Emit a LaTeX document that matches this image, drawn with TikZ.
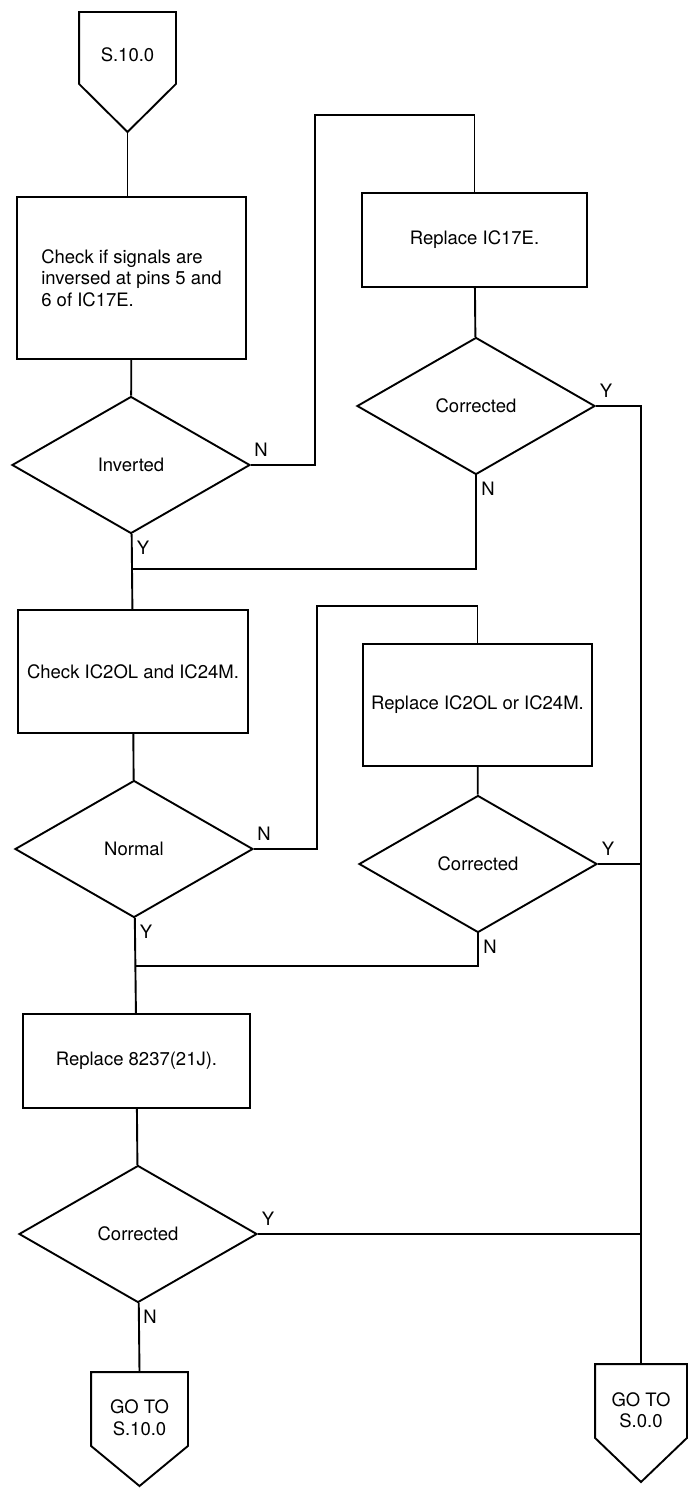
\documentclass[tikz,border=0pt]{standalone}
\usepackage{fontspec}
\setmainfont{TeX Gyre Heros}
\usetikzlibrary{shapes.geometric}

\begin{document}
\begin{tikzpicture}[x=1pt, y=-1pt, line width=1.9pt,
              every node/.style = {font=\fontsize{18.5}{21.5}\selectfont},
              procbox/.style = {draw, rectangle, inner sep=0, align=left},
              decision/.style = {draw, diamond, inner sep=0,
                minimum width=238, minimum height=137},
              offpage/.style = {rectangle, inner sep=0,
                minimum width=95, minimum height=70},
              eastlab/.style = {inner sep=0, xshift=10pt, yshift=15pt},
              southlab/.style = {inner sep=0, xshift=12pt, yshift=-13pt}]
  \useasboundingbox (0,0) rectangle (688,1488);

  \node[offpage, label={[yshift=-7pt]center:S.10.0}] (start) at (127.5,48) {};
  \coordinate (start tip) at (127.5,132);
  \node[procbox, minimum width=229, minimum height=162] (chkinv) at (131.5,278)
    {Check if signals are\\inversed at pins 5 and\\6 of IC17E.};
  \node[decision] (inverted) at (131,465) {Inverted};
  \node[procbox, minimum width=225, minimum height=94] (repE) at (474.5,240) {Replace IC17E.};
  \node[decision] (corrE) at (476,406) {Corrected};
  \node[procbox, minimum width=230, minimum height=123] (chkLM) at (133,671.5) {Check IC2OL and IC24M.};
  \node[decision] (normal) at (134,849) {Normal};
  \node[procbox, minimum width=229, minimum height=122] (repLM) at (477.5,705) {Replace IC2OL or IC24M.};
  \node[decision] (corrLM) at (478,864) {Corrected};
  \node[procbox, minimum width=227, minimum height=94] (repJ) at (136.5,1061) {Replace 8237(21J).};
  \node[decision] (corrJ) at (138,1234) {Corrected};
  \node[offpage, minimum height=72,
        label={[yshift=-8.5pt, align=center]center:GO TO\\S.10.0}] (back) at (139.5,1409) {};
  \coordinate (back tip) at (139.5,1486);
  \node[offpage, minimum width=90, minimum height=72,
        label={[yshift=-9pt, align=center]center:GO TO\\S.0.0}] (exit) at (641,1401) {};
  \coordinate (exit tip) at (641,1482);
  \coordinate (j1) at (132,569);
  \coordinate (j2) at (135,966);

  \draw (start.north west) -- (start.north east) -- (start.south east)
    -- (start tip) -- (start.south west) -- cycle;
  \draw (back.north west) -- (back.north east) -- (back.south east)
    -- (back tip) -- (back.south west) -- cycle;
  \draw (exit.north west) -- (exit.north east) -- (exit.south east)
    -- (exit tip) -- (exit.south west) -- cycle;

  \draw (start tip) -- (start tip |- chkinv.north);
  \draw (chkinv) -- (inverted);
  \draw (inverted.east) -| (315,115) -| (repE.north);
  \draw (repE) -- (corrE);
  \draw (corrE.east) -| (exit.north);
  \draw (corrE.south) |- (j1);
  \draw (inverted) -- (chkLM);
  \draw (chkLM) -- (normal);
  \draw (normal.east) -| (317,606) -| (repLM.north);
  \draw (repLM) -- (corrLM);
  \draw (corrLM.east) -- (corrLM.east -| exit.north);
  \draw (corrLM.south) |- (j2);
  \draw (normal) -- (repJ);
  \draw (repJ) -- (corrJ);
  \draw (corrJ.east) -- (corrJ.east -| exit.north);
  \draw (corrJ) -- (back.north);

  \node[eastlab] (invN) at (inverted.east) {N};
  \node[southlab] (invY) at (inverted.south) {Y};
  \node[eastlab] (corrEY) at (corrE.east) {Y};
  \node[southlab] (corrEN) at (corrE.south) {N};
  \node[eastlab] (normN) at (normal.east) {N};
  \node[southlab] (normY) at (normal.south) {Y};
  \node[eastlab] (corrLMY) at (corrLM.east) {Y};
  \node[southlab] (corrLMN) at (corrLM.south) {N};
  \node[eastlab] (corrJY) at (corrJ.east) {Y};
  \node[southlab] (corrJN) at (corrJ.south) {N};
\end{tikzpicture}
\end{document}
